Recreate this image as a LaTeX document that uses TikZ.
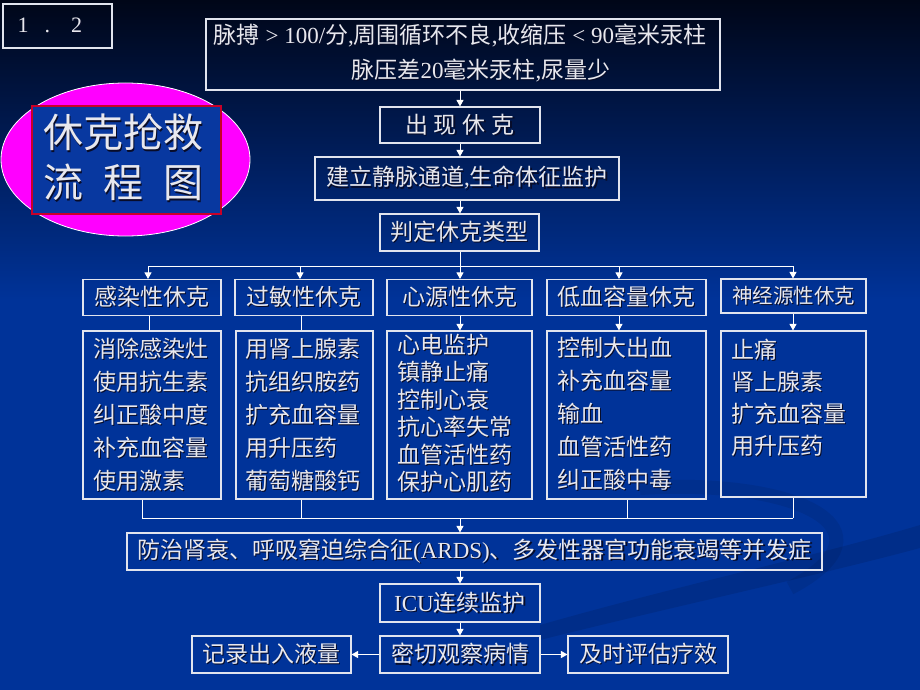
\documentclass[tikz,border=0pt]{standalone}
\usepackage{fontspec}
\setmainfont{Noto Sans CJK SC}
\newfontfamily\lat{Liberation Serif}
\usetikzlibrary{arrows.meta,shapes.geometric}
\definecolor{bgtop}{RGB}{0,6,24}
\definecolor{bgblue}{RGB}{0,51,153}
\definecolor{txtc}{RGB}{232,232,238}
\definecolor{shd}{RGB}{8,12,40}
\definecolor{edge}{RGB}{225,228,238}
\definecolor{magen}{RGB}{255,0,255}
\definecolor{crim}{RGB}{200,0,40}
\definecolor{titlefill}{RGB}{8,56,160}
\newcommand\sh[1]{\makebox[0pt][l]{\hspace{1.3pt}\raisebox{-1.3pt}{\color{shd}#1}}#1}
\begin{document}
\begin{tikzpicture}[x=1pt,y=-1pt,
  box/.style={draw=edge, line width=1.1pt, inner sep=0pt, text=txtc, font=\fontsize{23}{23}\selectfont},
  conn/.style={draw=white, line width=1pt},
  arr/.style={conn, -{Triangle[width=7pt,length=6.5pt]}},
  txt/.style={inner sep=0pt, text=txtc, font=\fontsize{23}{23}\selectfont, anchor=west}]
% background
\fill[bgblue] (0,0) rectangle (920,690);
\shade[top color=bgtop, bottom color=bgblue] (0,0) rectangle (920,300);
\useasboundingbox (0,0) rectangle (920,690);
% subtle swooshes
\fill[black, opacity=0.10] (540,625) .. controls (680,585) and (820,555) .. (920,525) -- (920,548) .. controls (820,575) and (680,605) .. (540,640) -- cycle;
\draw[black, opacity=0.08, line width=14pt] (640,488) .. controls (800,478) and (900,530) .. (790,588);
% number box
\node[box, minimum width=109pt, minimum height=44pt, font=\lat\fontsize{22}{22}\selectfont] (num) at (57.5,26)
  {\makebox[109pt][l]{\hspace{14.5pt}\sh{1}\hspace{16pt}\sh{.}\hspace{21pt}\sh{2}}};
% title ellipse
\node[ellipse, fill=magen, draw=white, line width=0.8pt, minimum width=249pt, minimum height=153pt, inner sep=0pt] (oval) at (125.5,159.5) {};
\node[draw=crim, line width=1.5pt, fill=titlefill, minimum width=189pt, minimum height=108pt, inner sep=0pt] (title) at (126.5,160) {};
\node[inner sep=0pt, text=txtc, align=left, font=\fontsize{40}{50}\selectfont] (titletext) at (123,158)
  {\sh{休克抢救}\\\sh{流\hspace{20pt}程\hspace{20pt}图}};
% top chain
\node[box, minimum width=514pt, minimum height=71pt] (top) at (463,54.5) {};
\node[txt, anchor=center] (top1) at (460,36) {\sh{脉搏{\lat\ >\ 100/}分{\lat ,}周围循环不良{\lat ,}收缩压{\lat\ <\ 90}毫米汞柱}};
\node[txt, anchor=center] (top2) at (481,71) {\sh{脉压差{\lat 20}毫米汞柱{\lat ,}尿量少}};
\node[box, minimum width=160pt, minimum height=36pt] (chuxian) at (460,125) {\sh{出\hspace{6pt}现\hspace{6pt}休\hspace{6pt}克}};
\node[box, minimum width=304pt, minimum height=43pt] (jianli) at (467,178.5) {\sh{建立静脉通道{\lat ,}生命体征监护}};
\node[box, minimum width=159pt, minimum height=37pt] (panding) at (459.5,232.5) {\sh{判定休克类型}};
\draw[arr] (top.south -| chuxian.north) -- (chuxian.north);
\draw[arr] (chuxian.south) -- (chuxian.south |- jianli.north);
\draw[arr] (chuxian.south |- jianli.south) -- (chuxian.south |- panding.north);
% categories
\node[box, minimum width=138pt, minimum height=36pt] (c1) at (152,297.5) {\sh{感染性休克}};
\node[box, minimum width=138pt, minimum height=36pt] (c2) at (304,297.5) {\sh{过敏性休克}};
\node[box, minimum width=145pt, minimum height=36pt] (c3) at (459.5,297.5) {\sh{心源性休克}};
\node[box, minimum width=159pt, minimum height=36pt] (c4) at (626.5,297.5) {\sh{低血容量休克}};
\node[box, minimum width=145pt, minimum height=34pt, font=\fontsize{20.5}{20.5}\selectfont] (c5) at (793.5,296) {\sh{神经源性休克}};
\coordinate (k1) at (148,266);
\coordinate (k2) at (300,266);
\coordinate (k3) at (460,266);
\coordinate (k4) at (619,266);
\coordinate (k5) at (793,266);
\draw[conn] (k3 |- panding.south) -- (k3);
\draw[conn] (k1) -- (k5);
\draw[arr] (k1) -- (k1 |- c1.north);
\draw[arr] (k2) -- (k2 |- c2.north);
\draw[arr] (k3) -- (k3 |- c3.north);
\draw[arr] (k4) -- (k4 |- c4.north);
\draw[arr] (k5) -- (k5 |- c5.north);
% bodies
\node[box, minimum width=138pt, minimum height=168pt] (b1) at (152,415) {};
\node[box, minimum width=137pt, minimum height=168pt] (b2) at (304.5,415) {};
\node[box, minimum width=145pt, minimum height=168pt] (b3) at (459.5,415) {};
\node[box, minimum width=159pt, minimum height=168pt] (b4) at (626.5,415) {};
\node[box, minimum width=145pt, minimum height=166pt] (b5) at (793.5,414) {};
\draw[conn] ([xshift=-3pt]c1.south) -- ([xshift=-3pt]c1.south |- b1.north);
\draw[conn] ([xshift=-3pt]c2.south) -- ([xshift=-3pt]c2.south |- b2.north);
\draw[arr] (k3 |- c3.south) -- (k3 |- b3.north);
\draw[arr] (k4 |- c4.south) -- (k4 |- b4.north);
\draw[arr] (k5 |- c5.south) -- (k5 |- b5.north);
\foreach \t [count=\i] in {消除感染灶,使用抗生素,纠正酸中度,补充血容量,使用激素}
  \node[txt] (ta\i) at (93,{349+33*(\i-1)}) {\sh{\t}};
\foreach \t [count=\i] in {用肾上腺素,抗组织胺药,扩充血容量,用升压药,葡萄糖酸钙}
  \node[txt] (tb\i) at (245,{349+33*(\i-1)}) {\sh{\t}};
\foreach \t [count=\i] in {心电监护,镇静止痛,控制心衰,抗心率失常,血管活性药,保护心肌药}
  \node[txt] (tc\i) at (397,{345+27.5*(\i-1)}) {\sh{\t}};
\foreach \t [count=\i] in {控制大出血,补充血容量,输血,血管活性药,纠正酸中毒}
  \node[txt] (td\i) at (557,{348+33*(\i-1)}) {\sh{\t}};
\foreach \t [count=\i] in {止痛,肾上腺素,扩充血容量,用升压药}
  \node[txt] (te\i) at (731,{350+32*(\i-1)}) {\sh{\t}};
% merge
\coordinate (m1) at (142,518);
\coordinate (m2) at (301,518);
\coordinate (m3) at (460,518);
\coordinate (m4) at (627,518);
\coordinate (m5) at (793,518);
\draw[conn] (m1) -- (m5);
\draw[conn] (m1 |- b1.south) -- (m1);
\draw[conn] (m2 |- b2.south) -- (m2);
\draw[conn] (m4 |- b4.south) -- (m4);
\draw[conn] (m5 |- b5.south) -- (m5);
% bottom chain
\node[box, minimum width=695pt, minimum height=37pt] (fang) at (474.5,551.5) {\sh{防治肾衰、呼吸窘迫综合征{\lat (ARDS)}、多发性器官功能衰竭等并发症}};
\node[box, minimum width=160pt, minimum height=38pt] (icu) at (460,603) {\sh{{\lat ICU}连续监护}};
\node[box, minimum width=160pt, minimum height=37pt] (miqie) at (460,654.5) {\sh{密切观察病情}};
\node[box, minimum width=159pt, minimum height=37pt] (jilu) at (271.5,654.5) {\sh{记录出入液量}};
\node[box, minimum width=160pt, minimum height=37pt] (jishi) at (648,654.5) {\sh{及时评估疗效}};
\draw[arr] (m3) -- (m3 |- fang.north);
\draw[arr] (icu.north |- fang.south) -- (icu.north);
\draw[arr] (icu) -- (miqie);
\draw[arr] (miqie) -- (jilu);
\draw[arr] (miqie) -- (jishi);
\end{tikzpicture}
\end{document}
